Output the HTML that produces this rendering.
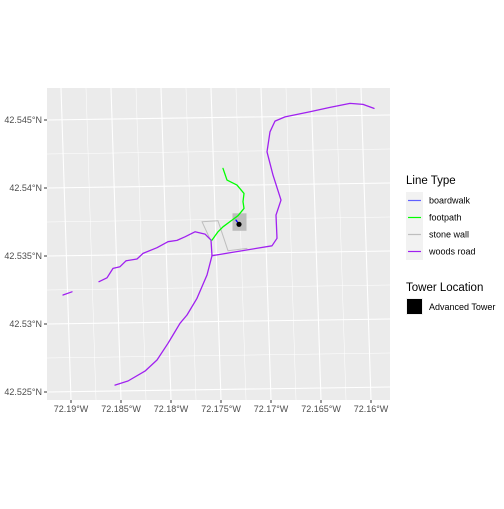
<!DOCTYPE html>
<html><head><meta charset="utf-8"><style>
body{margin:0;background:#fff;font-family:"Liberation Sans",sans-serif;}
svg text{font-family:"Liberation Sans",sans-serif;}
</style></head><body>
<svg id="chart" width="504" height="504" xmlns="http://www.w3.org/2000/svg">
<rect x="47" y="88" width="343" height="312" fill="#ebebeb"/>
<g id="grid"></g><g id="marks"></g><g id="axes"></g>
<g>
<text x="406" y="184" font-size="11.5" fill="#000">Line Type</text>
<g id="legkeys"></g>
<text x="406" y="291" font-size="11.5" fill="#000">Tower Location</text>
<rect x="406" y="298" width="17" height="17" fill="#f2f2f2"/>
<rect x="407" y="299" width="15" height="15" fill="#000"/>
<text x="429" y="310" font-size="9" fill="#000">Advanced Tower</text>
</g>
</svg>
<script>
const xTicks=[-72.19,-72.185,-72.18,-72.175,-72.17,-72.165,-72.16];
const xTickLabels=["72.19°W","72.185°W","72.18°W","72.175°W","72.17°W","72.165°W","72.16°W"];
const yTicks=[42.545,42.54,42.535,42.53,42.525];
const yTickLabels=["42.545°N","42.54°N","42.535°N","42.53°N","42.525°N"];
const woodsRoadEastLon=[-72.1759,-72.1699,-72.1694,-72.1695,-72.1690,-72.1698,-72.1704,-72.1701,-72.1696,-72.1686,-72.1661,-72.1641,-72.1621,-72.1608,-72.1597];
const woodsRoadEastLat=[42.53502,42.53575,42.53630,42.53801,42.53911,42.54095,42.54266,42.54413,42.54492,42.54523,42.54560,42.54593,42.54622,42.54615,42.54585];
const woodsRoadWestLon=[-72.1908,-72.1899];
const woodsRoadWestLat=[42.53213,42.53237];
const woodsRoadMainLon=[-72.1872,-72.1864,-72.1858,-72.1851,-72.1845,-72.1834,-72.1828,-72.1814,-72.1803,-72.1794,-72.1786,-72.1776,-72.1766,-72.1760,-72.1759,-72.1764,-72.1774,-72.1784,-72.1791,-72.1798,-72.1803,-72.1814,-72.1826,-72.1843,-72.1856];
const woodsRoadMainLat=[42.53311,42.53340,42.53409,42.53421,42.53465,42.53478,42.53519,42.53561,42.53605,42.53615,42.53641,42.53678,42.53661,42.53617,42.53502,42.53360,42.53189,42.53066,42.53005,42.52919,42.52858,42.52735,42.52654,42.52581,42.52551];
const footpathLon=[-72.1748,-72.1744,-72.1734,-72.1727,-72.1728,-72.1727,-72.1733,-72.1739,-72.1748,-72.1753,-72.1759];
const footpathLat=[42.54144,42.54058,42.54021,42.53960,42.53899,42.53850,42.53796,42.53764,42.53715,42.53678,42.53617];
const boardwalkLon=[-72.1735,-72.1732];
const boardwalkLat=[42.53764,42.53733];
const stoneWallLon=[-72.1761,-72.1769,-72.1753,-72.1743,-72.1724];
const stoneWallLat=[42.53625,42.53752,42.53759,42.53539,42.53556];
const towerLon=[-72.1732];
const towerLat=[42.53733];

const sx=lon=>71+(lon+72.19)/0.005*50;
const sy=lat=>392-(lat-42.525)/0.005*68;
const NS="http://www.w3.org/2000/svg";
function mk(tag,attrs,parent){const e=document.createElementNS(NS,tag);for(const k in attrs)e.setAttribute(k,attrs[k]);parent.appendChild(e);return e;}
const grid=document.getElementById('grid'),marks=document.getElementById('marks'),axes=document.getElementById('axes');
for(let i=0;i<yTicks.length-1;i++){const y=(sy(yTicks[i])+sy(yTicks[i+1]))/2;
 const l=mk('line',{x1:47,y1:y,x2:390,y2:y-5,stroke:'#fff','stroke-width':0.5},grid);
 
 }
for(let i=0;i<xTicks.length-1;i++){const x=(sx(xTicks[i])+sx(xTicks[i+1]))/2;
 const l=mk('line',{x1:x,y1:400,x2:x-10,y2:88,stroke:'#fff','stroke-width':0.5},grid);
 
 }
yTicks.forEach((v,i)=>{const y=sy(v);
 const l=mk('line',{x1:47,y1:y,x2:390,y2:y-5,stroke:'#fff','stroke-width':1.07},grid);
 
 
 const t=mk('line',{x1:44,y1:y,x2:47,y2:y,stroke:'#333','stroke-width':1},axes);
 
 
 const tx=mk('text',{x:42,y:y+3.2,'font-size':9,fill:'#4d4d4d','text-anchor':'end'},axes);tx.textContent=yTickLabels[i];
 
 });
xTicks.forEach((v,i)=>{const x=sx(v);
 const l=mk('line',{x1:x,y1:400,x2:x-10,y2:88,stroke:'#fff','stroke-width':1.07},grid);
 
 
 const t=mk('line',{x1:x,y1:400,x2:x,y2:403,stroke:'#333','stroke-width':1},axes);
 
 
 const tx=mk('text',{x:x,y:412,'font-size':9,fill:'#4d4d4d','text-anchor':'middle'},axes);tx.textContent=xTickLabels[i];
 
 });
function line(lons,lats,color,w,name){const d=lons.map((v,i)=>(i?'L':'M')+sx(v).toFixed(1)+','+sy(lats[i]).toFixed(1)).join('');
 const p=mk('path',{d:d,fill:'none',stroke:color,'stroke-width':w,'stroke-linejoin':'round','stroke-linecap':'round'},marks);
 
 }
const tb=mk('rect',{x:sx(towerLon[0])-6.5,y:sy(towerLat[0])-11,width:14,height:17.5,fill:'#bdbdbd'},marks);


line(stoneWallLon,stoneWallLat,'#bebebe',1,'stone-wall-line');
line(woodsRoadEastLon,woodsRoadEastLat,'#a020f0',1.3,'woods-road-east');
line(woodsRoadWestLon,woodsRoadWestLat,'#a020f0',1.3,'woods-road-west');
line(woodsRoadMainLon,woodsRoadMainLat,'#a020f0',1.3,'woods-road-main');
line(footpathLon,footpathLat,'#00ff00',1.3,'footpath-line');
line(boardwalkLon,boardwalkLat,'#0000ff',1.3,'boardwalk-line');
const tp=mk('circle',{cx:sx(towerLon[0]),cy:sy(towerLat[0]),r:2.6,fill:'#000'},marks);


const legNames=["boardwalk","footpath","stone wall","woods road"];
const legColors=["#6060ff","#00ff00","#bebebe","#a020f0"];
const lk=document.getElementById('legkeys');
legNames.forEach((n,i)=>{const y=192+i*17;
 const r=mk('rect',{x:406,y:y,width:17,height:17,fill:'#f2f2f2'},lk);
 
 
 const l=mk('line',{x1:408,y1:y+8.5,x2:421,y2:y+8.5,stroke:legColors[i],'stroke-width':1.2},lk);
 
 
 const t=mk('text',{x:429,y:y+11.5,'font-size':9,fill:'#000'},lk);t.textContent=n;
 
 });
</script>
</body></html>
